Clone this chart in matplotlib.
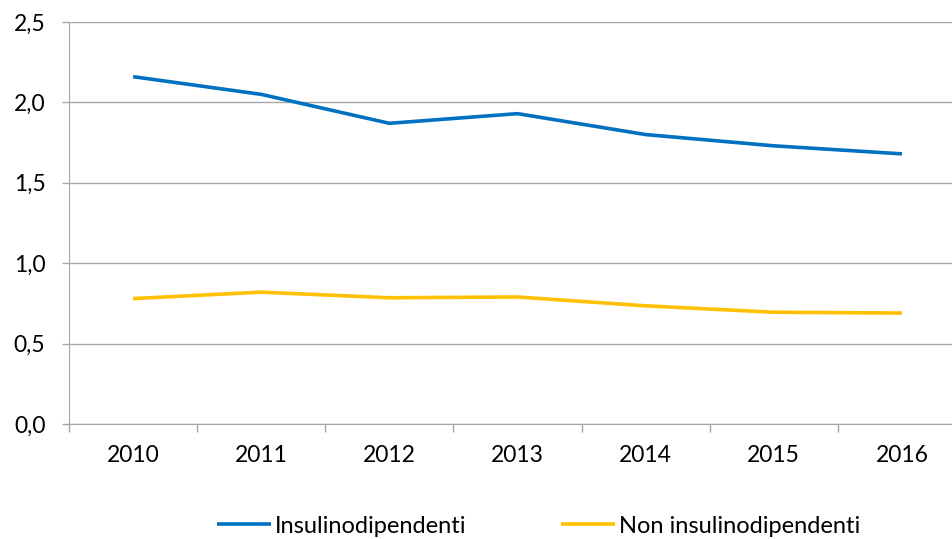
import numpy as np
import matplotlib.pyplot as plt
from matplotlib.ticker import FixedLocator, FuncFormatter

years = ["2010", "2011", "2012", "2013", "2014", "2015", "2016"]
insulinodipendenti = [2.16, 2.05, 1.87, 1.93, 1.80, 1.73, 1.68]
non_insulinodipendenti = [0.78, 0.82, 0.785, 0.79, 0.735, 0.695, 0.69]

plt.rcParams['font.family'] = ['Lato', 'DejaVu Sans']

fig = plt.figure(figsize=(9.53, 5.39), dpi=100)
ax = fig.add_axes([69 / 953, 1 - 424 / 539, 897 / 953, 402 / 539])

x = np.arange(len(years))
ax.plot(x, insulinodipendenti, color="#0070C0", lw=2.6, label="Insulinodipendenti",
        solid_capstyle="butt", zorder=3)
ax.plot(x, non_insulinodipendenti, color="#FFC000", lw=2.6, label="Non insulinodipendenti",
        solid_capstyle="butt", zorder=3)

ax.set_xlim(-0.5, len(years) - 0.5)
ax.set_ylim(0, 2.5)
ax.set_yticks(np.arange(0, 2.51, 0.5))
ax.yaxis.set_major_formatter(FuncFormatter(lambda v, p: f"{v:.1f}".replace(".", ",")))

# category boundaries get the tick marks, labels sit at the centres
ax.xaxis.set_major_locator(FixedLocator(np.arange(-0.5, len(years), 1.0)))
ax.xaxis.set_minor_locator(FixedLocator(x))
ax.set_xticklabels([], minor=False)
ax.set_xticklabels(years, minor=True)
ax.tick_params(axis="x", which="major", length=6, color="#a6a6a6", width=1)
ax.tick_params(axis="x", which="minor", length=0, pad=15, labelsize=16.5)
ax.tick_params(axis="y", length=5, color="#a6a6a6", width=1, pad=12, labelsize=16.5)

ax.grid(axis="y", color="#a6a6a6", lw=1)
ax.set_axisbelow(True)
for s in ["top", "right"]:
    ax.spines[s].set_visible(False)
ax.spines["left"].set_color("#a6a6a6")
ax.spines["bottom"].set_color("#a6a6a6")

fig.legend(loc="center", bbox_to_anchor=(0.565, 0.024), ncol=2, frameon=False,
           fontsize=17, handlelength=2.3, handletextpad=0.17, columnspacing=4.0)

fig.savefig("out.png", dpi=100)
